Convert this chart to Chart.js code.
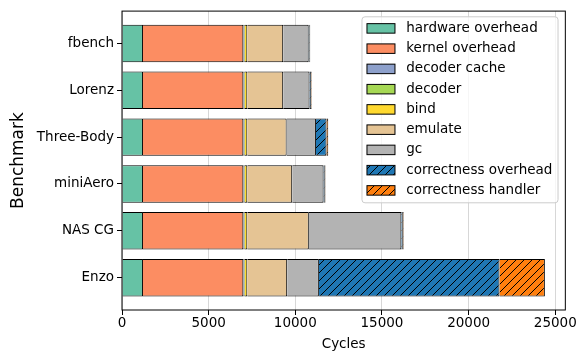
<!DOCTYPE html>
<html>
<head>
<meta charset="utf-8">
<script src="https://cdn.jsdelivr.net/npm/chart.js@4.4.0/dist/chart.umd.min.js"></script>
<style>
  html, body { margin: 0; padding: 0; background: #fff; }
  #wrap { width: 577px; height: 351px; }
</style>
</head>
<body>
<div id="wrap"><canvas id="c" width="577" height="351"></canvas></div>
<script>
// Benchmarks, top to bottom
const benchmarks = ['fbench', 'Lorenz', 'Three-Body', 'miniAero', 'NAS CG', 'Enzo'];

// Cycle breakdown per benchmark
const hardwareOverhead    = [1210, 1210, 1210, 1210, 1210, 1210];
const kernelOverhead      = [5790, 5790, 5790, 5790, 5790, 5790];
const decoderCache        = [40, 40, 40, 40, 40, 40];
const decoder             = [40, 40, 40, 40, 40, 40];
const bind                = [150, 150, 150, 150, 150, 150];
const emulate             = [2070, 2070, 2270, 2590, 3550, 2300];
const gc                  = [1470, 1520, 1690, 1810, 5340, 1830];
const correctnessOverhead = [60, 80, 610, 70, 80, 10420];
const correctnessHandler  = [30, 40, 100, 40, 50, 2620];

const cycleTicks = [0, 5000, 10000, 15000, 20000, 25000];
const cycleMax = 25580;

const FONT = 'DejaVu Sans';
const canvas = document.getElementById('c');
const ctx0 = canvas.getContext('2d');

function hatch(color) {
  const t = document.createElement('canvas');
  t.width = 8; t.height = 8;
  const g = t.getContext('2d');
  g.fillStyle = color;
  g.fillRect(0, 0, 8, 8);
  g.strokeStyle = '#000';
  g.lineWidth = 1;
  g.beginPath();
  g.moveTo(0, 8); g.lineTo(8, 0);
  g.moveTo(-1, 1); g.lineTo(1, -1);
  g.moveTo(7, 9); g.lineTo(9, 7);
  g.stroke();
  return ctx0.createPattern(t, 'repeat');
}

const series = [
  ['hardware overhead', hardwareOverhead, '#66c2a5'],
  ['kernel overhead', kernelOverhead, '#fc8d62'],
  ['decoder cache', decoderCache, '#8da0cb'],
  ['decoder', decoder, '#a6d854'],
  ['bind', bind, '#ffd92f'],
  ['emulate', emulate, '#e5c494'],
  ['gc', gc, '#b3b3b3'],
  ['correctness overhead', correctnessOverhead, hatch('#1f77b4')],
  ['correctness handler', correctnessHandler, hatch('#ff7f0e')]
];

const datasets = series.map(([label, vals, color]) => ({
  label,
  data: vals.map((v, i) => ({ x: v, y: i })),
  backgroundColor: color,
  borderColor: '#000',
  borderWidth: 1,
  borderSkipped: 'start',
  stack: 'all',
  barPercentage: 0.8,
  categoryPercentage: 1.0
}));

// Axes frame drawn over the bars
const frame = {
  id: 'frame',
  afterDatasetsDraw(chart) {
    const { ctx, chartArea: a } = chart;
    ctx.save();
    ctx.strokeStyle = '#000';
    ctx.lineWidth = 1;
    ctx.strokeRect(a.left, a.top, a.right - a.left, a.bottom - a.top);
    ctx.restore();
  }
};

// Legend box in the upper right of the plot
const legendBox = {
  id: 'legendBox',
  afterDraw(chart) {
    const { ctx, chartArea: a } = chart;
    const fs = 13.5, rowH = 20.25, patchW = 28, patchH = 9.5;
    ctx.save();
    ctx.font = fs + 'px "' + FONT + '"';
    const items = chart.data.datasets;
    const maxText = Math.max(...items.map(d => ctx.measureText(d.label).width));
    const w = 5 + patchW + 11.3 + maxText + 5.7;
    const h = 11.6 + rowH * (items.length - 1) + 12.4;
    const x0 = a.right - 7.3 - w, y0 = a.top + 5.7;
    ctx.beginPath();
    ctx.roundRect(x0, y0, w, h, 3);
    ctx.fillStyle = 'rgba(255,255,255,0.8)';
    ctx.fill();
    ctx.strokeStyle = '#cccccc';
    ctx.lineWidth = 1;
    ctx.stroke();
    items.forEach((d, i) => {
      const cy = y0 + 11.6 + i * rowH;
      const px = x0 + 5;
      ctx.fillStyle = d.backgroundColor;
      ctx.fillRect(px, cy - patchH / 2, patchW, patchH);
      ctx.strokeStyle = '#000';
      ctx.lineWidth = 1;
      ctx.strokeRect(px, cy - patchH / 2, patchW, patchH);
      ctx.fillStyle = '#000';
      ctx.textBaseline = 'middle';
      ctx.textAlign = 'left';
      ctx.fillText(d.label, px + patchW + 11.3, cy);
    });
    ctx.restore();
  }
};

new Chart(canvas, {
  type: 'bar',
  data: { datasets },
  plugins: [frame, legendBox],
  options: {
    indexAxis: 'y',
    responsive: false,
    animation: false,
    devicePixelRatio: 1,
    layout: { padding: { left: 0, right: 11, top: 11, bottom: 0 } },
    plugins: { legend: { display: false }, tooltip: { enabled: false } },
    scales: {
      x: {
        type: 'linear',
        stacked: true,
        bounds: 'data',
        offset: false,
        min: 0,
        max: cycleMax,
        afterBuildTicks: s => { s.ticks = cycleTicks.map(v => ({ value: v })); },
        afterFit: s => { s.height = 41; },
        grid: { offset: false, color: 'rgba(176,176,176,0.5)', lineWidth: 1, tickColor: '#000', tickLength: 5 },
        border: { display: false },
        ticks: { color: '#000', padding: 0, font: { family: FONT, size: 13.5 }, callback: v => String(v) },
        title: { display: true, text: 'Cycles', color: '#000', font: { family: FONT, size: 13.5, lineHeight: 1 }, padding: { top: 0, bottom: 0 } }
      },
      y: {
        type: 'linear',
        stacked: true,
        reverse: true,
        bounds: 'data',
        offset: false,
        min: -0.69,
        max: 5.69,
        afterBuildTicks: s => { s.ticks = benchmarks.map((_, i) => ({ value: i })); },
        afterFit: s => { s.width = 122; },
        grid: { offset: false, drawOnChartArea: false, tickColor: '#000', tickLength: 5 },
        border: { display: false },
        ticks: { color: '#000', padding: 3, font: { family: FONT, size: 13.5 }, callback: v => benchmarks[v] },
        title: { display: true, text: 'Benchmark', color: '#000', font: { family: FONT, size: 17 }, padding: { top: 8, bottom: 0 } }
      }
    }
  }
});
</script>
</body>
</html>
